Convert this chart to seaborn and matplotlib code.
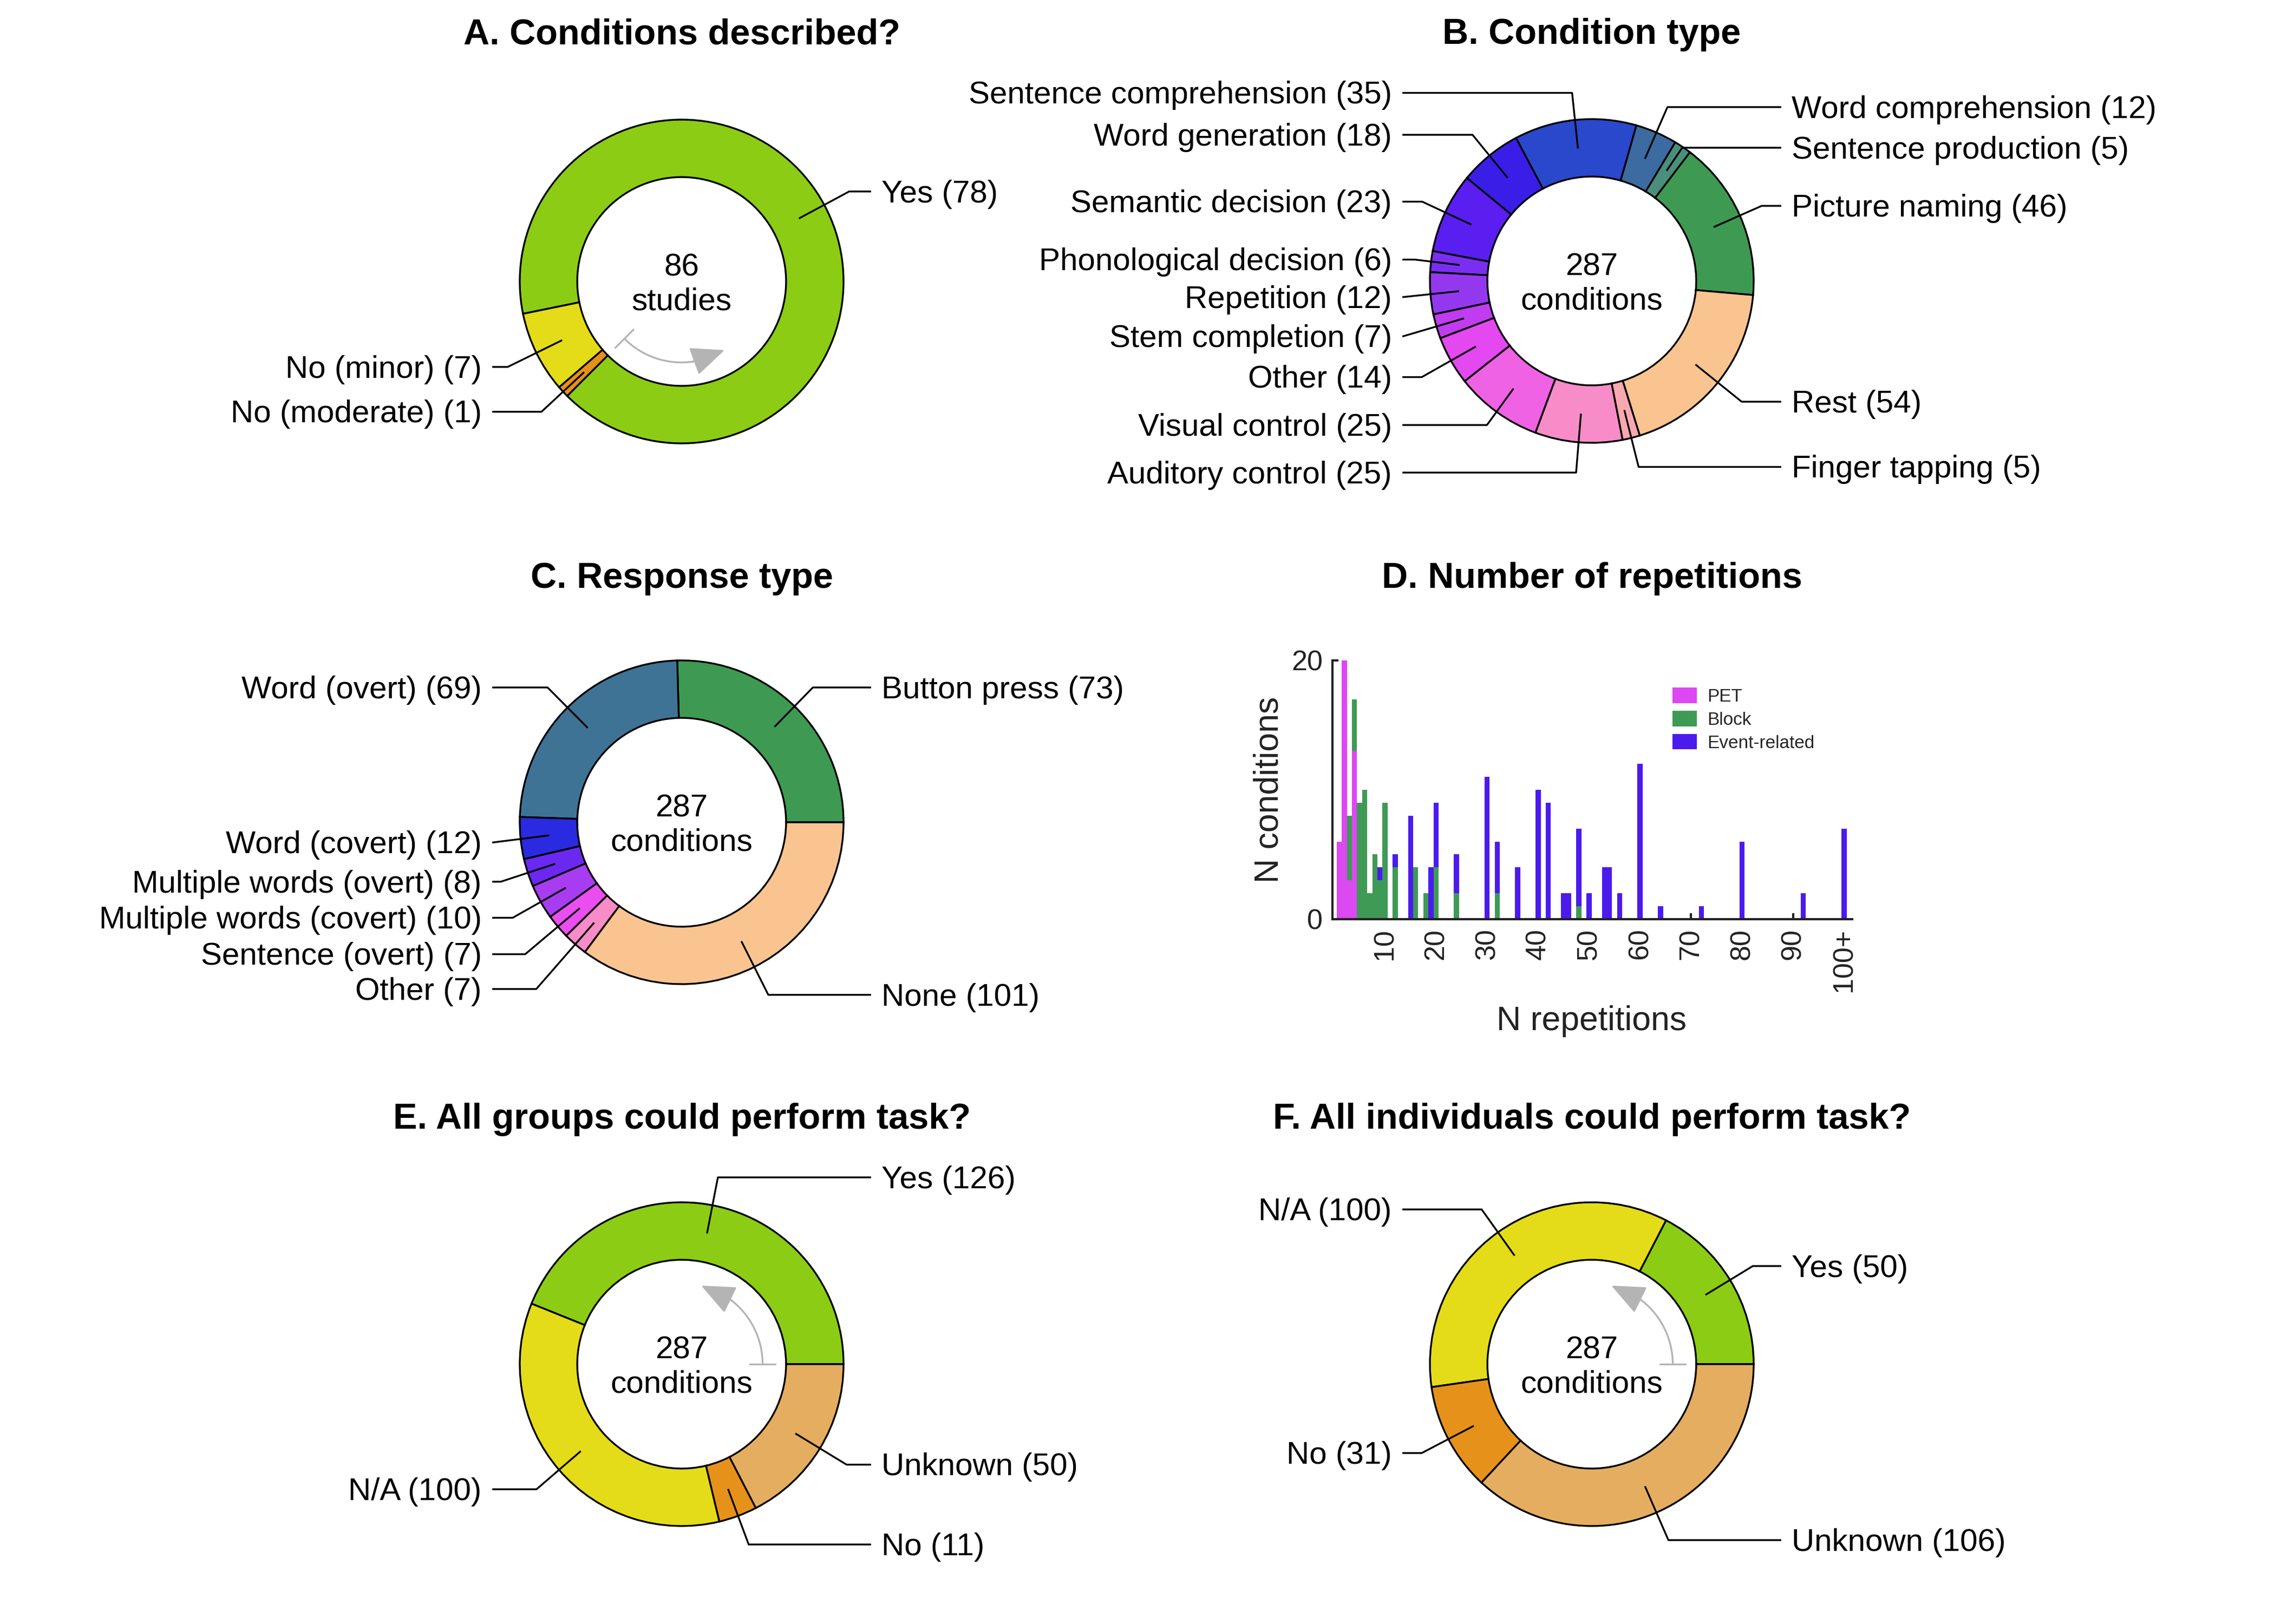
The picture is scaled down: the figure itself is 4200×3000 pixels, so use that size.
import numpy as np
import pandas as pd
import matplotlib
matplotlib.use("Agg")
import matplotlib.pyplot as plt
import matplotlib.patches as mpatches
import seaborn as sns

# ---------------- data ----------------
a_labels = ["Yes", "No (minor)", "No (moderate)"]
a_counts = [78, 7, 1]
a_colors = ["#8ccc14", "#e4dc18", "#e6901a"]

b_labels = ["Picture naming", "Sentence production", "Word comprehension",
            "Sentence comprehension", "Word generation", "Semantic decision",
            "Phonological decision", "Repetition", "Stem completion", "Other",
            "Visual control", "Auditory control", "Finger tapping", "Rest"]
b_counts = [46, 5, 12, 35, 18, 23, 6, 12, 7, 14, 25, 25, 5, 54]
b_colors = ["#3e9a52", "#4a8e7c", "#3b6ba0", "#2a48cc", "#3a1ee8", "#5a1ef0",
            "#7a2ef2", "#9438f0", "#c03cf0", "#e448f0", "#f062e4", "#f78cc8",
            "#f9a8b0", "#f9c490"]

c_labels = ["Button press", "Word (overt)", "Word (covert)", "Multiple words (overt)",
            "Multiple words (covert)", "Sentence (overt)", "Other", "None"]
c_counts = [73, 69, 12, 8, 10, 7, 7, 101]
c_colors = ["#3e9a52", "#3f7396", "#2a2ae0", "#6a28f0", "#a83cf0", "#ea4ef0",
            "#f78cc8", "#f9c490"]

e_labels = ["Yes", "N/A", "No", "Unknown"]
e_counts = [126, 100, 11, 50]
f_labels = ["Yes", "N/A", "No", "Unknown"]
f_counts = [50, 100, 31, 106]
ef_colors = ["#8ccc14", "#e4dc18", "#e6921a", "#e5ad60"]

rep_values = [1, 2, 3, 4, 5, 6, 7, 8, 9, 10, 12, 15, 16, 18, 19, 20, 24, 30, 32, 36,
              40, 42, 45, 46, 48, 50, 53, 54, 56, 60, 64, 72, 80, 92, 100]
pet_counts = [6, 20, 3, 13, 0, 0, 0, 0, 0, 0, 0, 0, 0, 0, 0, 0, 0, 0, 0, 0,
              0, 0, 0, 0, 0, 0, 0, 0, 0, 0, 0, 0, 0, 0, 0]
block_counts = [0, 0, 5, 4, 9, 10, 2, 5, 3, 9, 4, 0, 4, 2, 0, 4, 2, 0, 2, 0,
                0, 0, 0, 0, 1, 0, 0, 0, 0, 0, 0, 0, 0, 0, 0]
event_counts = [0, 0, 0, 0, 0, 0, 0, 0, 1, 0, 1, 8, 0, 0, 4, 5, 3, 11, 4, 4,
                10, 9, 2, 2, 6, 2, 4, 4, 2, 12, 1, 1, 6, 2, 7]
design_names = ["PET", "Block", "Event-related"]
design_colors = ["#dc48f2", "#3f9a55", "#4b1aee"]
x_ticks = [10, 20, 30, 40, 50, 60, 70, 80, 90, 100]
x_ticklabels = ["10", "20", "30", "40", "50", "60", "70", "80", "90", "100+"]

# ---------------- setup ----------------
sns.set_theme(style="white")
plt.rcParams['font.family'] = ['Liberation Sans', 'DejaVu Sans']

W, H = 4200, 3000
fig = plt.figure(figsize=(14, 10), dpi=300)
fig.patch.set_facecolor("white")
R = 299.0


def fx(px):
    return px / W


def fy(py):
    return 1 - py / H


def donut(cx, cy, counts, colors, start, labels, sides, ys, center_text,
          arrow_sweep=None):
    half = 1.5 * R
    ax = fig.add_axes([fx(cx - half), fy(cy + half), 2 * half / W, 2 * half / H])
    ax.pie(counts, colors=colors, startangle=start, counterclock=True, radius=1.0,
           wedgeprops=dict(width=0.355, edgecolor='black', linewidth=0.8))
    ax.set_xlim(-1.5, 1.5)
    ax.set_ylim(-1.5, 1.5)
    ax.set_aspect('auto')
    ax.axis('off')
    total = float(sum(counts))
    cum = 0.0
    r0 = 0.8225
    xend = 1.17
    xtxt = 1.235
    for v, lab, side, ly in zip(counts, labels, sides, ys):
        th = np.deg2rad(start + (cum + v / 2.0) / total * 360.0)
        cum += v
        ux, uy = np.cos(th), np.sin(th)
        sx = 1 if side == 'r' else -1
        p0 = (r0 * ux, r0 * uy)
        re = ly / uy if abs(uy) > 1e-9 else np.inf
        if np.isfinite(re) and re > r0 and re * ux * sx < xend:
            xs = [p0[0], re * ux, sx * xend]
            yv = [p0[1], ly, ly]
        else:
            xs = [p0[0], sx * xend]
            yv = [p0[1], ly]
        ax.plot(xs, yv, color='black', lw=0.8, clip_on=False, zorder=5,
                solid_capstyle='butt')
        ax.text(sx * xtxt, ly - 0.016, f"{lab} ({v})",
                ha='left' if sx > 0 else 'right',
                va='center', fontsize=14, color='black', clip_on=False)
    ax.text(0, -0.02, center_text, ha='center', va='center', fontsize=14,
            linespacing=1.2, color='black')
    if arrow_sweep is not None:
        gc = '#b4b4b4'
        ra = 0.5
        a0 = start
        a1 = start + arrow_sweep
        t = np.deg2rad(np.linspace(a0, a1 - 10, 80))
        ax.plot(ra * np.cos(t), ra * np.sin(t), color=gc, lw=0.8,
                solid_capstyle='butt')
        tb = np.deg2rad(a0)
        ax.plot([0.42 * np.cos(tb), 0.58 * np.cos(tb)],
                [0.42 * np.sin(tb), 0.58 * np.sin(tb)], color=gc, lw=0.8)
        ta = np.deg2rad(a1 - 24)
        tt = np.deg2rad(a1)
        arr = mpatches.FancyArrowPatch(
            (ra * np.cos(ta), ra * np.sin(ta)), (ra * np.cos(tt), ra * np.sin(tt)),
            arrowstyle='-|>,head_length=0.65,head_width=0.28', mutation_scale=20,
            color=gc, lw=0.8, shrinkA=0, shrinkB=0)
        ax.add_patch(arr)
    return ax


# A
donut(1259, 520, a_counts, a_colors, 225, a_labels, ['r', 'l', 'l'],
      [0.556, -0.528, -0.805], "86\nstudies", arrow_sweep=77)
# B
donut(2940, 519, b_counts, b_colors, -5, b_labels,
      ['r', 'r', 'r', 'l', 'l', 'l', 'l', 'l', 'l', 'l', 'l', 'l', 'r', 'r'],
      [0.464, 0.823, 1.074, 1.162, 0.903, 0.49, 0.132, -0.1, -0.343, -0.594,
       -0.89, -1.184, -1.149, -0.746], "287\nconditions")
# C
donut(1259, 1519, c_counts, c_colors, 0, c_labels,
      ['r', 'l', 'l', 'l', 'l', 'l', 'l', 'r'],
      [0.833, 0.833, -0.125, -0.367, -0.59, -0.815, -1.03, -1.066],
      "287\nconditions")
# E
donut(1259, 2520, e_counts, ef_colors, 0, e_labels, ['r', 'l', 'r', 'r'],
      [1.154, -0.773, -1.114, -0.621], "287\nconditions", arrow_sweep=76)
# F
donut(2940, 2520, f_counts, ef_colors, 0, f_labels, ['r', 'l', 'l', 'r'],
      [0.606, 0.956, -0.549, -1.087], "287\nconditions", arrow_sweep=76)

# ---------------- D: histogram ----------------
rows = []
for name, cnts in zip(design_names, [pet_counts, block_counts, event_counts]):
    for xv, c in zip(rep_values, cnts):
        rows.append({"reps": xv, "design": name, "count": c})
df = pd.DataFrame(rows)

px_per_unit = 9.42
x0_unit = 2464.0
xl, xr = -0.3, 101.6
left_px = x0_unit + xl * px_per_unit
right_px = x0_unit + xr * px_per_unit
top_px, bot_px = 1220.0, 1698.0
axd = fig.add_axes([fx(left_px), fy(bot_px), (right_px - left_px) / W,
                    (bot_px - top_px) / H])
sns.histplot(data=df, x="reps", weights="count", hue="design",
             hue_order=design_names[::-1],
             palette=dict(zip(design_names, design_colors)),
             multiple="stack", discrete=True, shrink=1.0, linewidth=0,
             edgecolor='none', alpha=1.0, legend=False, ax=axd)
axd.set_xlim(xl, xr)
axd.set_ylim(0, 20)
axd.set_facecolor('none')
axd.set_xlabel("")
axd.set_ylabel("")
for s in ['top', 'right']:
    axd.spines[s].set_visible(False)
for s in ['left', 'bottom']:
    axd.spines[s].set_visible(True)
    axd.spines[s].set_linewidth(1.0)
    axd.spines[s].set_color('#222222')
axd.spines['left'].set_bounds(0, 20)
axd.set_yticks([0, 20])
axd.set_xticks(x_ticks)
axd.set_xticklabels(x_ticklabels)
axd.tick_params(axis='both', which='major', direction='in', length=2.6, width=1.0,
                color='#222222', labelsize=12.5, labelcolor='#222222',
                bottom=True, left=True)
axd.tick_params(axis='x', rotation=90, pad=4)
axd.tick_params(axis='y', pad=4.3)

handles = [mpatches.Patch(facecolor=c, edgecolor='none', label=l)
           for l, c in zip(design_names, design_colors)]
fig.legend(handles=handles, loc='upper left', bbox_to_anchor=(fx(3089), fy(1270)),
           frameon=False, fontsize=8, handlelength=1.35, handleheight=0.95,
           handletextpad=0.57, labelspacing=0.3, borderpad=0, borderaxespad=0)

fig.text(fx(2344), fy(1459), "N conditions", rotation=90, ha='center', va='center',
         fontsize=15, color='#222222')
fig.text(fx(2940), fy(1886), "N repetitions", ha='center', va='center',
         fontsize=15, color='#222222')

# ---------------- titles ----------------
titles = [("A. Conditions described?", 1259, 64),
          ("B. Condition type", 2940, 64),
          ("C. Response type", 1259, 1069),
          ("D. Number of repetitions", 2940, 1069),
          ("E. All groups could perform task?", 1259, 2068),
          ("F. All individuals could perform task?", 2940, 2068)]
for t, x, y in titles:
    fig.text(fx(x), fy(y), t, ha='center', va='center', fontsize=16,
             fontweight='bold', color='black')

fig.savefig("out.png", dpi=300, facecolor='white')
